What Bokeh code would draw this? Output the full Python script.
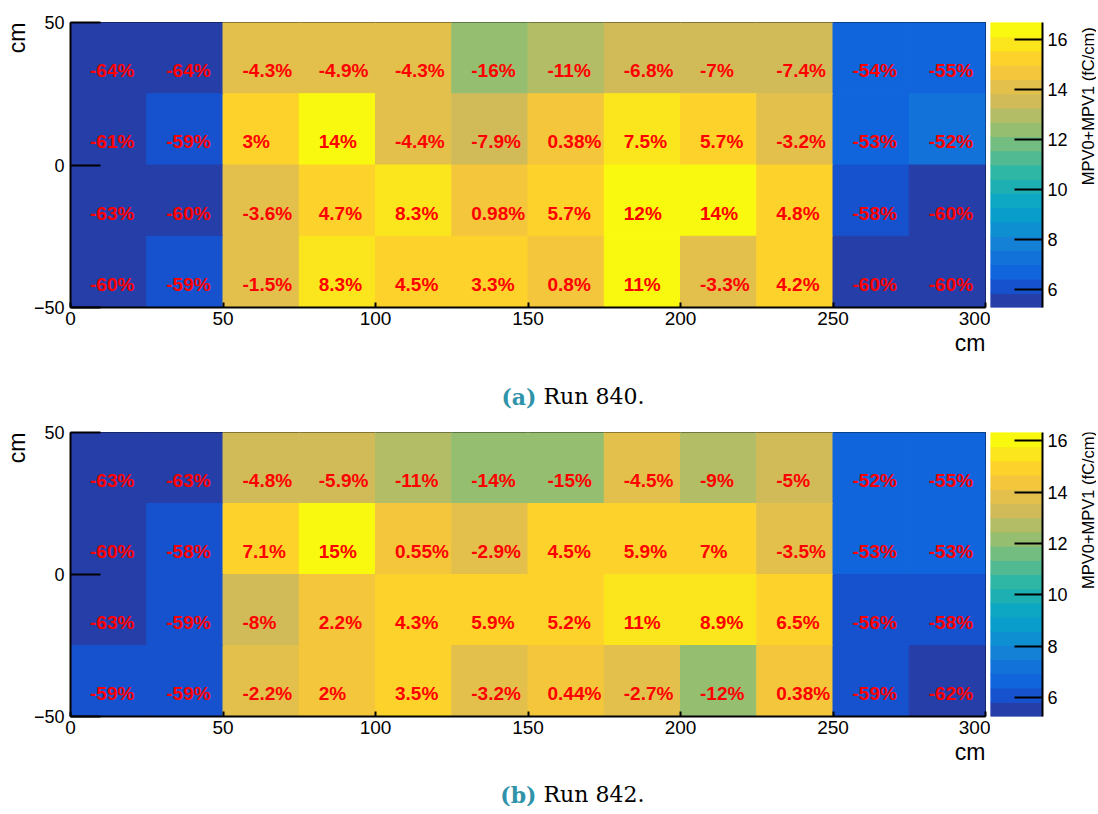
import math
from bokeh.plotting import figure
from bokeh.models import ColumnDataSource, LinearColorMapper, FixedTicker, LinearAxis, Range1d, Title
from bokeh.layouts import column, row
from bokeh.transform import transform
from bokeh.core.properties import value
from bokeh.embed import file_html
from bokeh.resources import INLINE

# ---------------- data ----------------
x_bin_lo = [0, 25, 50, 75, 100, 125, 150, 175, 200, 225, 250, 275]   # cm, lower bin edges
y_bin_lo = [25, 0, -25, -50]                                         # cm, rows from top
bin_size = 25
x_ticks = [0, 50, 100, 150, 200, 250, 300]
y_ticks = [-50, 0, 50]
z_ticks = [6, 8, 10, 12, 14, 16]

run840_values = [
    [5.27, 5.27, 14.00, 13.91, 14.00, 12.29, 13.02, 13.64, 13.61, 13.55, 6.73, 6.58],
    [5.71, 6.00, 15.07, 16.68, 13.99, 13.47, 14.69, 15.73, 15.46, 14.16, 6.88, 7.02],
    [5.41, 5.80, 14.10, 15.32, 15.84, 14.77, 15.46, 16.39, 16.68, 15.33, 6.14, 5.80],
    [5.80, 6.00, 14.38, 15.84, 15.29, 15.11, 14.75, 16.24, 14.15, 15.24, 5.80, 5.80],
]
run840_labels = [
    ["-64%", "-64%", "-4.3%", "-4.9%", "-4.3%", "-16%", "-11%", "-6.8%", "-7%", "-7.4%", "-54%", "-55%"],
    ["-61%", "-59%", "3%", "14%", "-4.4%", "-7.9%", "0.38%", "7.5%", "5.7%", "-3.2%", "-53%", "-52%"],
    ["-63%", "-60%", "-3.6%", "4.7%", "8.3%", "0.98%", "5.7%", "12%", "14%", "4.8%", "-58%", "-60%"],
    ["-60%", "-59%", "-1.5%", "8.3%", "4.5%", "3.3%", "0.8%", "11%", "-3.3%", "4.2%", "-60%", "-60%"],
]
run842_values = [
    [5.25, 5.25, 13.52, 13.36, 12.64, 12.21, 12.07, 13.60, 12.92, 13.49, 6.82, 6.39],
    [5.68, 5.96, 15.21, 16.33, 14.28, 13.79, 14.84, 15.04, 15.19, 13.70, 6.67, 6.67],
    [5.25, 5.82, 13.06, 14.51, 14.81, 15.04, 14.94, 15.76, 15.46, 15.12, 6.25, 5.96],
    [5.82, 5.82, 13.89, 14.48, 14.70, 13.75, 14.26, 13.82, 12.40, 14.25, 5.82, 5.40],
]
run842_labels = [
    ["-63%", "-63%", "-4.8%", "-5.9%", "-11%", "-14%", "-15%", "-4.5%", "-9%", "-5%", "-52%", "-55%"],
    ["-60%", "-58%", "7.1%", "15%", "0.55%", "-2.9%", "4.5%", "5.9%", "7%", "-3.5%", "-53%", "-53%"],
    ["-63%", "-59%", "-8%", "2.2%", "4.3%", "5.9%", "5.2%", "11%", "8.9%", "6.5%", "-56%", "-58%"],
    ["-59%", "-59%", "-2.2%", "2%", "3.5%", "-3.2%", "0.44%", "-2.7%", "-12%", "0.38%", "-59%", "-62%"],
]
z_title = "MPV0+MPV1 (fC/cm)"
axis_title = "cm"
captions = [("(a)", "Run 840."), ("(b)", "Run 842.")]

# ---------------- ROOT kBird palette, 20 contours ----------------
_st = [0.0000, 0.1250, 0.2500, 0.3750, 0.5000, 0.6250, 0.7500, 0.8750, 1.0000]
_r = [0.2082, 0.0592, 0.0780, 0.0232, 0.1802, 0.5301, 0.8186, 0.9956, 0.9764]
_g = [0.1664, 0.3599, 0.5041, 0.6419, 0.7178, 0.7492, 0.7328, 0.7862, 0.9832]
_b = [0.5293, 0.8684, 0.8385, 0.7914, 0.6425, 0.4662, 0.3499, 0.1968, 0.0539]


def bird(ncont=20, ncol=255):
    table = []
    for k in range(1, len(_st)):
        n = int(math.floor(ncol * _st[k]) - math.floor(ncol * _st[k - 1]))
        for c in range(n):
            f = c / n
            table.append((_r[k - 1] + f * (_r[k] - _r[k - 1]),
                          _g[k - 1] + f * (_g[k] - _g[k - 1]),
                          _b[k - 1] + f * (_b[k] - _b[k - 1])))
    out = []
    for i in range(ncont):
        idx = min(int((i + 0.99) * ncol / ncont), len(table) - 1)
        r, g, b = table[idx]
        out.append("#%02x%02x%02x" % (round(r * 255), round(g * 255), round(b * 255)))
    return out


PAL = bird()
SANS = "Liberation Sans"
SERIF = "DejaVu Serif"
TOTAL_W = 1096
HEAT_W = 990
CB_W = 80
ZT_W = TOTAL_W - HEAT_W - CB_W


def style_axis(ax, size, tick_in, standoff):
    ax.major_tick_in = tick_in
    ax.major_tick_out = 0
    ax.minor_tick_line_color = None
    ax.axis_line_width = 2
    ax.axis_line_color = "black"
    ax.major_tick_line_width = 2
    ax.major_tick_line_color = "black"
    ax.major_label_text_font = SANS
    ax.major_label_text_font_size = size
    ax.major_label_text_color = "black"
    ax.major_label_standoff = standoff


def blank(w, h):
    f = figure(width=w, height=h, x_range=Range1d(0, w), y_range=Range1d(0, h),
               output_backend="svg", toolbar_location=None,
               min_border_left=0, min_border_right=0, min_border_top=0, min_border_bottom=0,
               x_axis_location=None, y_axis_location=None)
    f.grid.visible = False
    f.outline_line_color = None
    f.background_fill_color = "white"
    f.border_fill_color = "white"
    return f


def panel(values, labels, top_b, frame_h, bot_b):
    H = top_b + frame_h + bot_b
    low = min(min(r) for r in values)
    high = max(max(r) for r in values)
    mapper = LinearColorMapper(palette=PAL, low=low, high=high)
    xs, ys, vs, tx, ty, tt = [], [], [], [], [], []
    for ri, yl in enumerate(y_bin_lo):
        for ci, xl in enumerate(x_bin_lo):
            xs.append(xl + bin_size / 2)
            ys.append(yl + bin_size / 2)
            vs.append(values[ri][ci])
            tx.append(xl + 6.4)
            ty.append(yl + 8.1)
            tt.append(labels[ri][ci])
    src = ColumnDataSource(dict(x=xs, y=ys, v=vs, tx=tx, ty=ty, t=tt))

    p = figure(width=HEAT_W, height=H,
               x_range=Range1d(0, 300), y_range=Range1d(-50, 50),
               output_backend="svg", toolbar_location=None,
               min_border_left=70, min_border_right=5, min_border_top=top_b,
               min_border_bottom=bot_b)
    p.rect(x="x", y="y", width=bin_size, height=bin_size, source=src,
           fill_color=transform("v", mapper), line_color=transform("v", mapper), line_width=1)
    p.text(x="tx", y="ty", text="t", source=src, text_color="#ff0000",
           text_font=value(SANS), text_font_style="bold", text_font_size=value("19px"),
           text_align="left", text_baseline="alphabetic")

    p.xaxis.ticker = FixedTicker(ticks=x_ticks)
    p.yaxis.ticker = FixedTicker(ticks=y_ticks)
    style_axis(p.xaxis[0], "19px", 5, 4)
    style_axis(p.yaxis[0], "18px", 30, 6)
    p.yaxis.major_label_overrides = {-50: "\u221250"}
    p.grid.visible = False
    p.outline_line_color = "black"
    p.outline_line_width = 1
    p.background_fill_color = "white"
    p.border_fill_color = "white"

    p.add_layout(Title(text=axis_title, align="right", text_font=SANS, text_font_size="23px",
                       text_font_style="normal", text_color="black", standoff=1), "left")
    p.add_layout(Title(text=axis_title, align="right", text_font=SANS, text_font_size="23px",
                       text_font_style="normal", text_color="black", standoff=0), "below")

    # colour bar
    c = figure(width=CB_W, height=H,
               x_range=Range1d(0, 1), y_range=Range1d(low, high),
               output_backend="svg", toolbar_location=None,
               min_border_left=0, min_border_right=CB_W - 53, min_border_top=top_b,
               min_border_bottom=bot_b,
               x_axis_location=None, y_axis_location=None)
    dz = (high - low) / len(PAL)
    bot = [low + i * dz for i in range(len(PAL))]
    top = [low + (i + 1) * dz for i in range(len(PAL))]
    c.quad(left=0, right=1, bottom=bot, top=top, fill_color=PAL, line_color=PAL, line_width=1)
    ax = LinearAxis(ticker=FixedTicker(ticks=z_ticks))
    style_axis(ax, "18px", 28, 5)
    c.add_layout(ax, "right")
    c.grid.visible = False
    c.outline_line_color = None
    c.background_fill_color = "white"
    c.border_fill_color = "white"

    # colour-bar title (rotated, top aligned)
    zt = blank(ZT_W, H)
    zt.text(x=[ZT_W - 8.5], y=[H - top_b + 16], text=[z_title], angle=math.pi / 2,
            text_align="right", text_baseline="alphabetic", text_color="black",
            text_font=value(SANS), text_font_size=value("16.5px"))
    return row(p, c, zt, spacing=0)


def caption(cap, h, base_y):
    f = blank(TOTAL_W, h)
    f.text(x=[536], y=[base_y], text=[cap[0]], text_align="right", text_baseline="alphabetic",
           text_color="#2f93aa", text_font=value(SERIF), text_font_style="bold",
           text_font_size=value("22px"))
    f.text(x=[543], y=[base_y], text=[cap[1]], text_align="left", text_baseline="alphabetic",
           text_color="black", text_font=value(SERIF), text_font_size=value("22px"))
    return f


top_panel = panel(run840_values, run840_labels, 22, 285, 60)      # page y 0..367
cap_a = caption(captions[0], 51, 22)                                 # page y 367..418
bottom_panel = panel(run842_values, run842_labels, 14, 284, 58)    # page y 418..774
cap_b = caption(captions[1], 32, 12)                                 # page y 774..806
layout = column(top_panel, cap_a, bottom_panel, cap_b, spacing=0)

open("out.html", "w").write(file_html(layout, INLINE))
